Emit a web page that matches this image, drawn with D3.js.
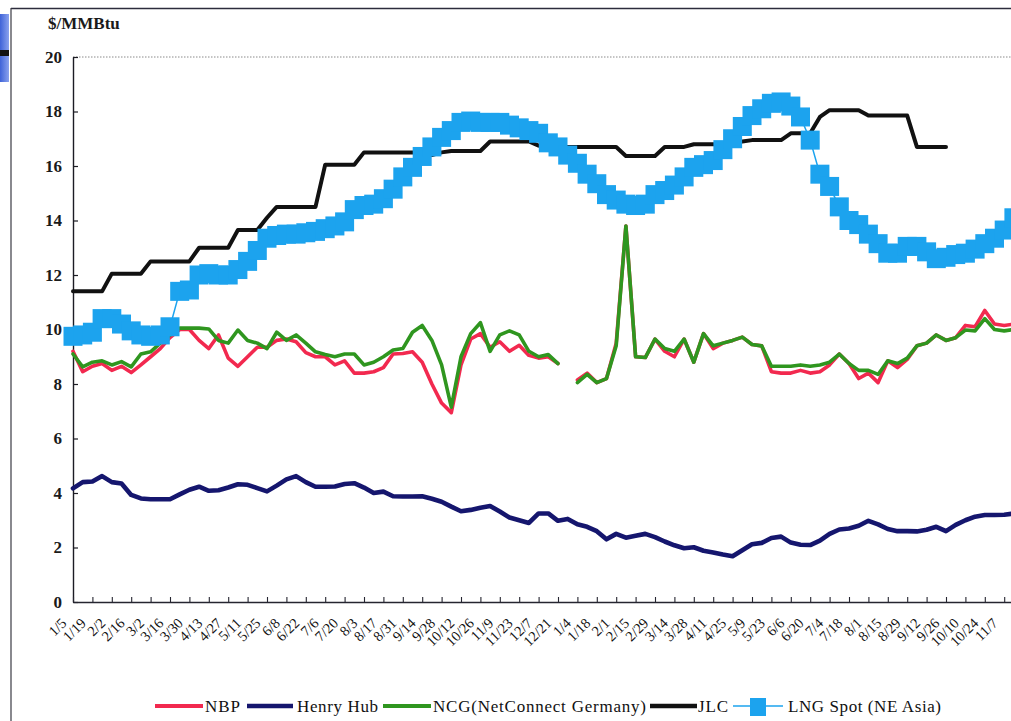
<!DOCTYPE html>
<html>
<head>
<meta charset="utf-8">
<script src="https://cdn.jsdelivr.net/npm/d3@7"></script>
<style>
  html, body { margin: 0; padding: 0; background: #fff; }
  svg { display: block; }
</style>
</head>
<body>
<svg id="chart" width="1011" height="721"></svg>
<script>
// Fortnightly category labels (weekly data, one label every second week)
const weekLabels = ["1/5","1/19","2/2","2/16","3/2","3/16","3/30","4/13","4/27","5/11","5/25","6/8","6/22",
  "7/6","7/20","8/3","8/17","8/31","9/14","9/28","10/12","10/26","11/9","11/23","12/7","12/21",
  "1/4","1/18","2/1","2/15","2/29","3/14","3/28","4/11","4/25","5/9","5/23","6/6","6/20",
  "7/4","7/18","8/1","8/15","8/29","9/12","9/26","10/10","10/24","11/7"];

const yTicks = [0, 2, 4, 6, 8, 10, 12, 14, 16, 18, 20];

// Weekly prices, $/MMBtu
const nbp = [9.2,8.45,8.65,8.75,8.5,8.65,8.42,8.7,9.0,9.3,
  9.7,10.0,10.0,9.6,9.3,9.8,8.95,8.65,9.0,9.35,
  9.35,9.6,9.65,9.55,9.15,9.0,9.0,8.7,8.85,8.4,
  8.4,8.45,8.6,9.1,9.12,9.18,8.8,8.0,7.3,6.95,
  8.7,9.65,9.85,9.35,9.55,9.2,9.42,9.05,8.95,9.0,
  8.75,null,8.15,8.4,8.05,8.2,9.5,13.8,9.0,8.97,
  9.65,9.2,9.0,9.65,8.8,9.85,9.3,9.5,9.6,9.72,
  9.45,9.4,8.45,8.4,8.4,8.5,8.4,8.45,8.7,9.1,
  8.75,8.2,8.4,8.05,8.85,8.6,8.9,9.4,9.5,9.8,
  9.6,9.7,10.15,10.1,10.7,10.2,10.15,10.2];

const henryHub = [4.17,4.4,4.42,4.62,4.4,4.35,3.93,3.8,3.77,3.77,
  3.77,3.95,4.12,4.23,4.08,4.1,4.2,4.32,4.3,4.18,
  4.06,4.27,4.5,4.62,4.4,4.23,4.23,4.24,4.33,4.36,
  4.2,4.0,4.05,3.88,3.87,3.87,3.88,3.79,3.68,3.5,
  3.33,3.38,3.46,3.52,3.32,3.1,3.0,2.9,3.25,3.25,
  2.98,3.05,2.85,2.76,2.6,2.3,2.5,2.36,2.43,2.5,
  2.38,2.22,2.08,1.97,2.01,1.88,1.82,1.74,1.68,1.9,
  2.12,2.17,2.35,2.4,2.18,2.1,2.09,2.25,2.5,2.66,
  2.7,2.8,2.98,2.85,2.68,2.6,2.6,2.59,2.65,2.76,
  2.6,2.83,3.0,3.13,3.19,3.19,3.2,3.25];

const ncg = [9.1,8.63,8.8,8.85,8.7,8.82,8.63,9.1,9.18,9.5,
  9.8,10.05,10.05,10.05,10.02,9.6,9.5,9.98,9.6,9.5,
  9.3,9.9,9.6,9.8,9.5,9.18,9.08,9.0,9.1,9.1,
  8.7,8.8,9.0,9.25,9.3,9.9,10.15,9.6,8.7,7.15,
  9.0,9.85,10.25,9.2,9.8,9.95,9.8,9.2,9.0,9.08,
  8.75,null,8.05,8.35,8.05,8.2,9.4,13.8,9.0,8.97,
  9.65,9.3,9.2,9.65,8.8,9.85,9.4,9.5,9.6,9.72,
  9.45,9.4,8.65,8.65,8.65,8.7,8.65,8.7,8.8,9.1,
  8.75,8.5,8.5,8.35,8.85,8.75,8.95,9.4,9.5,9.8,
  9.6,9.7,9.98,9.95,10.4,10.0,9.95,10.0];

const jlc = [11.4,11.4,11.4,11.4,12.05,12.05,12.05,12.05,12.5,12.5,
  12.5,12.5,12.5,13.0,13.0,13.0,13.0,13.65,13.65,13.65,
  14.1,14.5,14.5,14.5,14.5,14.5,16.05,16.05,16.05,16.05,
  16.5,16.5,16.5,16.5,16.5,16.5,16.4,16.4,16.5,16.55,
  16.55,16.55,16.55,16.9,16.9,16.9,16.9,16.9,16.75,16.65,
  16.7,16.7,16.7,16.7,16.7,16.7,16.7,16.37,16.37,16.37,
  16.37,16.7,16.7,16.7,16.8,16.8,16.8,16.8,16.9,16.9,
  16.95,16.95,16.95,16.95,17.2,17.2,17.2,17.8,18.05,18.05,
  18.05,18.05,17.85,17.85,17.85,17.85,17.85,16.7,16.7,16.7,
  16.7,null,null,null,null,null,null,null];

const lngSpot = [9.75,9.8,9.9,10.4,10.4,10.2,9.95,9.8,9.75,9.8,
  10.1,11.4,11.45,12.0,12.05,12.0,12.0,12.2,12.5,12.9,
  13.35,13.45,13.5,13.5,13.55,13.6,13.7,13.8,13.95,14.4,
  14.55,14.6,14.8,15.15,15.6,15.95,16.35,16.7,17.05,17.3,
  17.6,17.65,17.6,17.6,17.6,17.5,17.4,17.3,17.2,16.85,
  16.7,16.4,16.1,15.7,15.35,14.95,14.75,14.6,14.55,14.6,
  14.95,15.1,15.3,15.6,15.95,16.05,16.2,16.6,17.0,17.45,
  17.85,18.1,18.3,18.35,18.2,17.8,16.95,15.7,15.25,14.5,
  14.0,13.85,13.5,13.15,12.8,12.8,13.05,13.05,12.85,12.6,
  12.65,12.75,12.8,12.95,13.15,13.35,13.65,14.1];

const seriesNames = ["NBP", "Henry Hub", "NCG(NetConnect Germany)", "JLC", "LNG Spot (NE Asia)"];

(function draw() {
  const svg = d3.select("#chart");
  const W = 1011, H = 721;
  const plotLeft = 73, plotTop = 57, plotBottom = 602;
  const step = 9.7;
  const n = lngSpot.length;

  const x = d3.scaleLinear().domain([0, n - 1]).range([plotLeft, plotLeft + step * (n - 1)]);
  const y = d3.scaleLinear().domain([0, 20]).range([plotBottom, plotTop]);

  const serif = "'Liberation Serif', 'Times New Roman', serif";
  const defs = svg.append("defs");

  // page frame and margin tab
  svg.append("line").attr("x1", 11).attr("x2", W).attr("y1", 8.5).attr("y2", 8.5)
    .attr("stroke", "#2c2c3c").attr("stroke-width", 1.6);
  svg.append("line").attr("x1", 11).attr("x2", 11).attr("y1", 8).attr("y2", H)
    .attr("stroke", "#3a3a44").attr("stroke-width", 1.2);
  const tabGrad = defs.append("linearGradient").attr("id", "tab")
    .attr("x1", 0).attr("x2", 1).attr("y1", 0).attr("y2", 0);
  tabGrad.append("stop").attr("offset", 0).attr("stop-color", "#3f63d8");
  tabGrad.append("stop").attr("offset", 1).attr("stop-color", "#8aa2ee");
  svg.append("rect").attr("x", 0).attr("y", 14).attr("width", 9).attr("height", 68).attr("fill", "url(#tab)");
  svg.append("rect").attr("x", 0).attr("y", 50).attr("width", 9).attr("height", 6).attr("fill", "#111");

  // unit label
  svg.append("text").attr("x", 48).attr("y", 29).attr("font-family", serif)
    .attr("font-size", 17).attr("font-weight", "bold").attr("fill", "#1a1a1a").text("$/MMBtu");

  // dotted top border of the plot area
  svg.append("line").attr("x1", plotLeft).attr("x2", W).attr("y1", plotTop).attr("y2", plotTop)
    .attr("stroke", "#8a8a8a").attr("stroke-width", 1).attr("stroke-dasharray", "1.5,1.5");

  // y axis
  const yAxis = svg.append("g").attr("transform", `translate(${plotLeft},0)`)
    .call(d3.axisLeft(y).tickValues(yTicks).tickSizeInner(-5).tickSizeOuter(0).tickPadding(11));
  yAxis.select(".domain").attr("stroke", "#1c1c24").attr("stroke-width", 1.4);
  yAxis.selectAll(".tick line").attr("stroke", "#1c1c24").attr("stroke-width", 1.2);
  yAxis.selectAll(".tick text").attr("font-family", serif).attr("font-size", 17)
    .attr("font-weight", "bold").attr("fill", "#1a1a1a");

  // x axis: one tick and label every second week
  const labelIdx = weekLabels.map((_, k) => 2 * k);
  const xAxis = svg.append("g").attr("transform", `translate(0,${plotBottom})`)
    .call(d3.axisBottom(x).tickValues(labelIdx).tickSizeInner(-5).tickSizeOuter(0)
      .tickFormat(d => weekLabels[d / 2]));
  xAxis.select(".domain").attr("stroke", "#252530").attr("stroke-width", 1.4);
  xAxis.selectAll(".tick line").attr("stroke", "#252530").attr("stroke-width", 1.1);
  xAxis.selectAll(".tick text")
    .attr("font-family", serif).attr("font-size", 14.5).attr("fill", "#111")
    .attr("text-anchor", "end").attr("dy", null).attr("y", null)
    .attr("transform", "translate(-6,22) rotate(-45)");

  const lineGen = d3.line()
    .defined(d => d != null)
    .x((d, i) => x(i))
    .y(d => y(d));

  const plot = svg.append("g");

  function drawLine(data, color, width) {
    plot.append("path").datum(data).attr("d", lineGen)
      .attr("fill", "none").attr("stroke", color).attr("stroke-width", width)
      .attr("stroke-linejoin", "round").attr("stroke-linecap", "round");
  }

  const colors = ["#f2294f", "#15166e", "#2f961f", "#111111", "#1ca3ee"];

  drawLine(nbp, colors[0], 3.6);
  drawLine(henryHub, colors[1], 4.6);
  drawLine(ncg, colors[2], 3.6);
  drawLine(jlc, colors[3], 4);
  drawLine(lngSpot, colors[4], 1.5);

  const sq = 19;
  plot.append("g").selectAll("rect").data(lngSpot).join("rect")
    .attr("x", (d, i) => x(i) - sq / 2).attr("y", d => y(d) - sq / 2)
    .attr("width", sq).attr("height", sq).attr("fill", colors[4]);

  // legend
  const legendItems = [
    { name: seriesNames[0], color: colors[0], x0: 155, x1: 203, tx: 205, len: 35, w: 4 },
    { name: seriesNames[1], color: colors[1], x0: 247, x1: 293, tx: 297, len: 81, w: 4.5 },
    { name: seriesNames[2], color: colors[2], x0: 383, x1: 431, tx: 433, len: 213, w: 4 },
    { name: seriesNames[3], color: colors[3], x0: 650, x1: 697, tx: 698, len: 30, w: 4.5 },
    { name: seriesNames[4], color: colors[4], x0: 733, x1: 783, tx: 788, len: 153, w: 1.6, marker: true }
  ];
  const lg = svg.append("g");
  legendItems.forEach(it => {
    lg.append("line").attr("x1", it.x0).attr("x2", it.x1).attr("y1", 706).attr("y2", 706)
      .attr("stroke", it.color).attr("stroke-width", it.w);
    if (it.marker) {
      lg.append("rect").attr("x", (it.x0 + it.x1) / 2 - 8).attr("y", 698)
        .attr("width", 16).attr("height", 18).attr("fill", it.color);
    }
    lg.append("text").attr("x", it.tx).attr("y", 712).attr("font-family", serif)
      .attr("font-size", 17).attr("fill", "#111")
      .attr("textLength", it.len).attr("lengthAdjust", "spacing").text(it.name);
  });
})();
</script>
</body>
</html>
